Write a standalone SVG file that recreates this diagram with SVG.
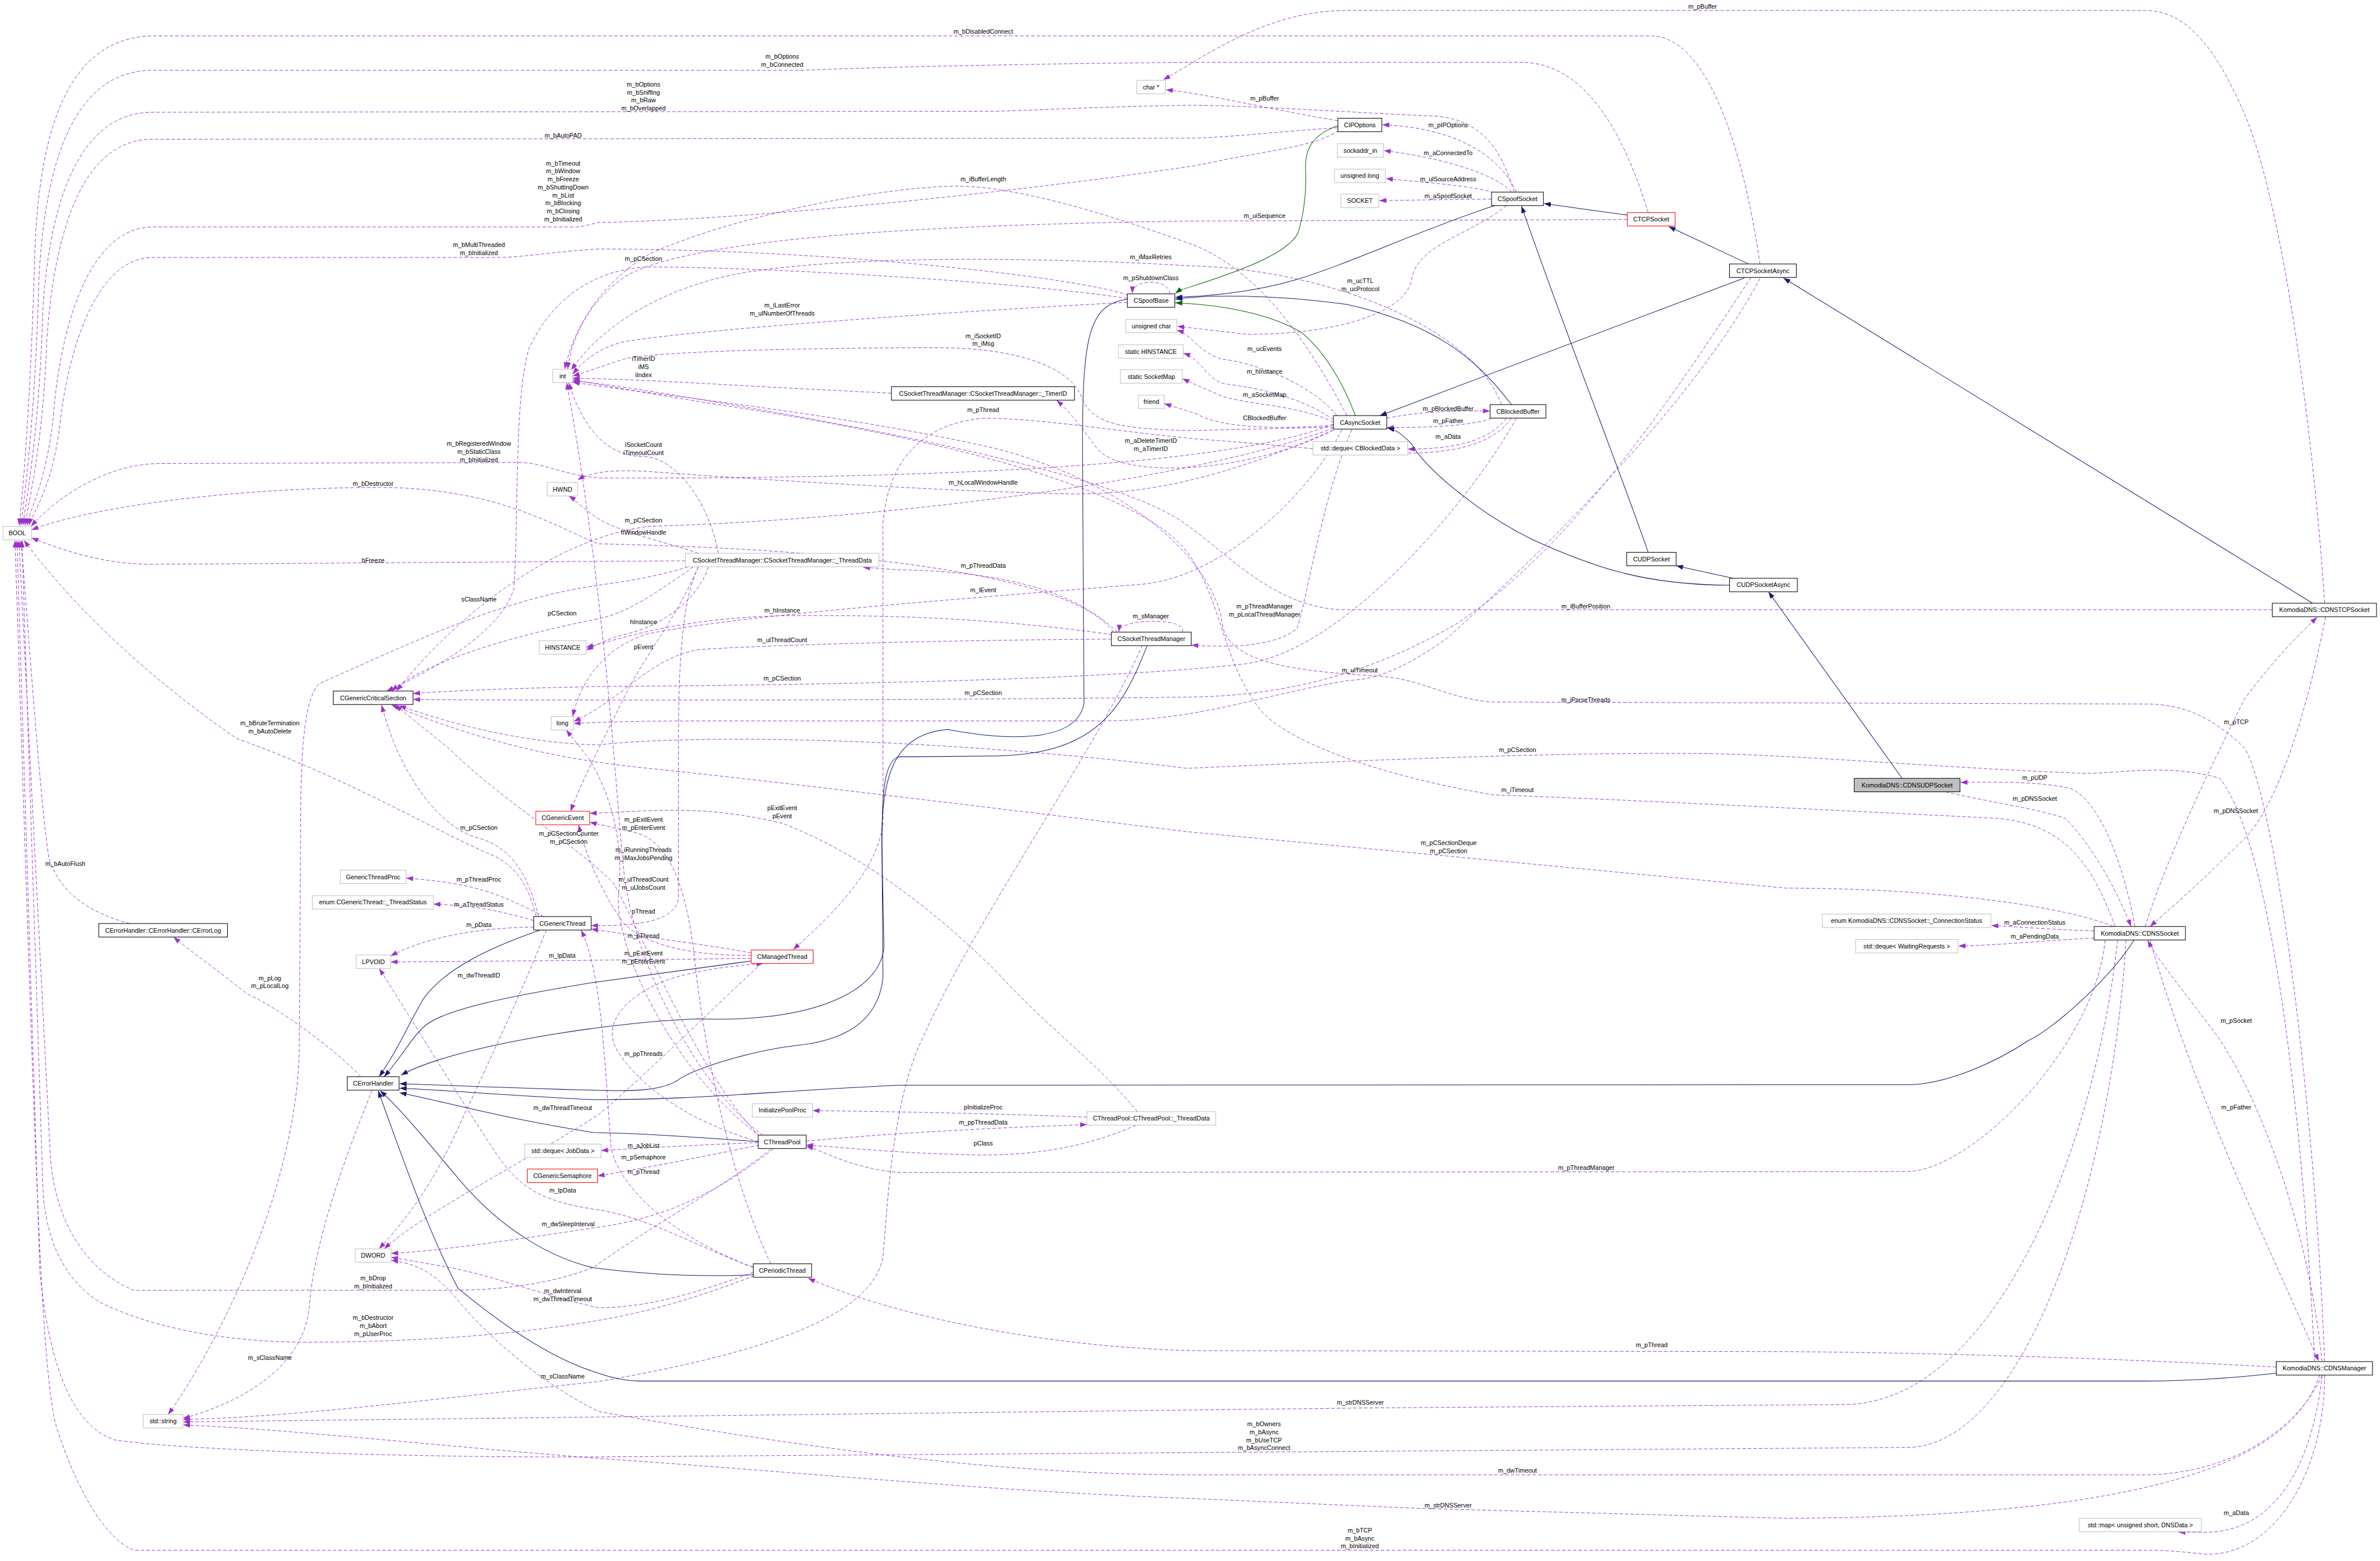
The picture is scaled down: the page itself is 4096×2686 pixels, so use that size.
<svg xmlns="http://www.w3.org/2000/svg" width="4096" height="2686" viewBox="0 0 4096 2686">
<style>
.nd rect{fill:#fff;stroke:#000;stroke-width:1.2}
.gy rect{stroke:#bfbfbf}
.rd rect{stroke:#ff0000}
.sel rect{fill:#bfbfbf}
text{font-family:"Liberation Sans",Arial,sans-serif;font-size:12.5px;text-anchor:middle;fill:#000}
.e{fill:none;stroke:#9a32cd;stroke-width:1.1;stroke-dasharray:7,4;marker-end:url(#ap)}
.i{fill:none;stroke:#191970;stroke-width:1.2;marker-end:url(#an)}
.gr{fill:none;stroke:#006400;stroke-width:1.2;marker-end:url(#ag)}
</style>
<defs>
<marker id="ap" viewBox="0 0 14 10" refX="14" refY="5" markerWidth="14" markerHeight="10" orient="auto" markerUnits="userSpaceOnUse"><path d="M0,0L14,5L0,10z" fill="#9a32cd"/></marker>
<marker id="an" viewBox="0 0 14 10" refX="14" refY="5" markerWidth="14" markerHeight="10" orient="auto" markerUnits="userSpaceOnUse"><path d="M0,0L14,5L0,10z" fill="#191970"/></marker>
<marker id="ag" viewBox="0 0 14 10" refX="14" refY="5" markerWidth="14" markerHeight="10" orient="auto" markerUnits="userSpaceOnUse"><path d="M0,0L14,5L0,10z" fill="#006400"/></marker>
</defs>
<rect width="4096" height="2686" fill="#fff"/>
<g transform="scale(0.85852)">
<g id="edges">
<path class="e" d="M4660,1209 C4640,900 4580,420 4500,230 C4440,90 4380,21 4300,21 L2700,21 C2540,21 2420,110 2332,160"/>
<path class="e" d="M3528,529 C3500,330 3430,72 3310,72 L306,72 C140,75 80,250 70,500 C62,800 45,1000 38,1053"/>
<path class="e" d="M3304,426 C3250,250 3170,125 3050,125 L2390,125 C2000,128 1700,137 1600,141 L306,141 C150,141 90,320 78,560 C70,850 48,1000 42,1053"/>
<path class="e" d="M3035,385 C3010,300 2970,233 2860,232 C2700,225 2500,211 2380,211 C2200,214 2050,222 1990,223 L306,225 C160,225 100,400 86,620 C78,880 52,1000 46,1053"/>
<path class="e" d="M2682,242 C2560,222 2420,188 2337,180"/>
<path class="e" d="M2682,256 C2580,262 2450,277 2380,277 L306,279 C170,279 110,450 94,680 C86,900 56,1010 50,1053"/>
<path class="e" d="M2684,262 C2640,290 2560,300 2500,312 C2450,320 2420,328 2390,333 C2000,390 1500,440 1200,446 C1180,450 1170,455 1150,455 L306,455 C190,455 130,620 110,800 C100,950 60,1020 54,1053"/>
<path class="e" d="M2262,592 C2180,560 1700,500 1200,499 C1100,505 1050,516 995,516 L306,516 C200,516 140,680 120,850 C105,980 64,1030 58,1053"/>
<path class="e" d="M2673,850 C2450,940 1800,960 1200,958 C1120,950 1090,927 1040,927 L321,929 C220,929 120,990 62,1055"/>
<path class="e" d="M2232,1267 C2150,1150 1700,1100 1200,1090 C1120,1060 1000,977 760,977 C500,977 200,1010 63,1062"/>
<path class="e" d="M1374,1124 L306,1131 C200,1131 120,1100 63,1078"/>
<path class="e" d="M1075,1837 C1060,1780 1040,1740 990,1715 C900,1680 700,1560 474,1480 C300,1360 150,1220 48,1083"/>
<path class="e" d="M260,1851 C180,1830 120,1790 98,1720 C80,1600 60,1300 42,1083"/>
<path class="e" d="M1545,2303 C1450,2380 1300,2460 1190,2540 C1100,2575 1000,2586 900,2586 L268,2586 C176,2548 105,2450 100,2300 L38,1083"/>
<path class="e" d="M1512,2557 C1400,2600 1300,2630 1190,2648 C1000,2680 800,2690 612,2690 C450,2690 300,2660 200,2610 C120,2560 90,2470 86,2380 L44,1083"/>
<path class="e" d="M4262,1884 C4230,2400 4050,2901 3823,2901 L1200,2920 C800,2922 350,2905 230,2886 C150,2860 100,2750 80,2550 L34,1083"/>
<path class="e" d="M4660,2756 C4660,2950 4560,3120 4420,3115 C4350,3107 4320,3107 4305,3107 L268,3107 C200,3080 140,2950 110,2849 C80,2700 70,2300 30,1083"/>
<path class="e" d="M3262,440 L2380,443 C1800,452 1400,480 1260,550 C1180,600 1145,680 1138,740"/>
<path class="e" d="M2700,833 C2620,680 2520,540 2390,490 C2250,440 2050,373 1917,373 C1750,375 1450,440 1300,510 C1200,570 1150,660 1132,740"/>
<path class="e" d="M3010,811 C2950,650 2650,540 2390,533 L2300,528 C2000,515 1700,515 1500,545 C1320,575 1200,660 1145,742"/>
<path class="e" d="M2260,606 C1900,625 1400,660 1250,685 C1190,700 1160,735 1148,750"/>
<path class="e" d="M2673,856 L2390,863 C2250,860 2190,850 2170,800 C2150,740 2050,697 1880,697 C1600,697 1300,705 1250,720 L1148,754"/>
<path class="e" d="M1787,788 C1500,775 1300,760 1148,758"/>
<path class="e" d="M1440,1109 C1420,1000 1350,915 1290,915 C1200,915 1160,830 1140,767"/>
<path class="e" d="M1530,2276 C1420,2200 1270,1950 1250,1740 C1235,1600 1215,1200 1136,767"/>
<path class="e" d="M4240,1857 C4200,1750 4150,1650 4000,1640 C3700,1625 3200,1600 2992,1593 C2800,1560 2600,1500 2530,1427 C2450,1330 2450,1200 2380,1107 C2300,1000 2000,900 1500,820 C1300,790 1200,770 1148,761"/>
<path class="e" d="M4555,1222 L2686,1222 C2550,1215 2450,1100 2380,1053 C2250,950 1700,850 1400,800 C1250,775 1180,765 1148,764"/>
<path class="e" d="M4660,2729 C4640,2200 4560,1600 4500,1500 C4420,1420 4350,1411 4300,1411 L2992,1407 C2900,1400 2850,1360 2760,1355 C2600,1345 2460,1330 2450,1250 C2440,1150 2300,980 2000,900 C1700,830 1300,790 1148,766"/>
<path class="e" d="M3528,558 C3400,800 3100,1100 2900,1280 C2800,1350 2750,1362 2700,1364 C2500,1400 2400,1445 2200,1445 L1400,1445 C1250,1445 1200,1448 1150,1450"/>
<path class="e" d="M2690,861 C2620,1000 2450,1150 2300,1170 C2000,1195 1500,1230 1300,1270 C1200,1300 1160,1380 1148,1436"/>
<path class="e" d="M2228,1281 C1900,1283 1550,1292 1400,1302 C1300,1320 1250,1400 1150,1446"/>
<path class="e" d="M1525,2278 C1350,2150 1230,1900 1240,1790 C1250,1700 1230,1600 1180,1520 L1135,1463"/>
<path class="e" d="M2260,598 C2000,560 1500,535 1300,535 C1180,540 1100,610 1060,700 C1030,800 1040,1050 1030,1180 C1000,1280 830,1360 775,1385"/>
<path class="e" d="M1390,1136 C1300,1200 1250,1230 1200,1240 C1000,1280 850,1330 785,1385"/>
<path class="e" d="M2673,858 C2400,960 1800,1040 1300,1055 C1100,1080 900,1250 795,1385"/>
<path class="e" d="M3040,838 C2950,1000 2700,1300 2500,1330 C2200,1365 1600,1373 1200,1376 C1000,1380 900,1385 828,1390"/>
<path class="e" d="M3510,556 C3350,800 3150,1100 2920,1250 C2700,1380 2500,1395 2390,1397 C2000,1402 1400,1405 828,1402"/>
<path class="e" d="M4640,2729 C4620,2300 4560,1700 4450,1560 C4350,1530 4250,1550 4182,1550 C3900,1540 3600,1512 3400,1510 C3100,1508 2700,1525 2380,1540 C1900,1480 1400,1470 1200,1493 C1050,1490 900,1450 800,1414"/>
<path class="e" d="M4236,1857 C4150,1820 3900,1780 3580,1780 L2904,1716 L2380,1667 C2000,1620 1500,1560 1300,1540 C1100,1520 950,1480 785,1413"/>
<path class="e" d="M1080,1837 C1060,1760 1030,1700 960,1680 C880,1660 800,1550 765,1413"/>
<path class="e" d="M1522,2277 C1400,2150 1300,1900 1230,1770 C1150,1690 1000,1600 900,1500 L792,1413"/>
<path class="e" d="M1400,1109 C1350,1090 1250,1070 1200,1040 C1170,1020 1150,1000 1140,994"/>
<path class="e" d="M2673,862 C2450,960 2300,990 2150,990 C1900,985 1500,960 1300,945 C1220,940 1180,948 1158,962"/>
<path class="e" d="M2230,1272 C2000,1240 1800,1232 1568,1234 C1350,1240 1250,1280 1175,1297"/>
<path class="e" d="M1420,1136 C1400,1200 1330,1255 1250,1272 C1220,1280 1200,1290 1175,1303"/>
<path class="e" d="M1400,1136 C1350,1250 1300,1300 1250,1400 C1200,1500 1160,1580 1144,1626"/>
<path class="e" d="M2280,2228 C2200,2130 2100,2060 2000,1950 C1850,1800 1700,1700 1568,1650 C1400,1610 1300,1627 1182,1630"/>
<path class="e" d="M1545,2533 C1460,2350 1410,2100 1390,1900 C1370,1750 1330,1680 1270,1668 L1182,1648"/>
<path class="e" d="M1506,1915 C1400,1915 1300,1900 1250,1850 C1200,1780 1170,1700 1160,1653"/>
<path class="e" d="M1400,1136 C1370,1200 1360,1300 1360,1500 L1360,1800 C1355,1840 1300,1857 1185,1855"/>
<path class="e" d="M1506,1910 C1400,1890 1300,1880 1185,1862"/>
<path class="e" d="M1510,2540 C1350,2480 1240,2380 1225,2300 C1210,2100 1205,1950 1165,1864"/>
<path class="e" d="M1090,1837 C1000,1790 950,1770 814,1760"/>
<path class="e" d="M1070,1845 C1000,1825 950,1815 869,1812"/>
<path class="e" d="M1070,1858 C950,1860 850,1880 783,1916"/>
<path class="e" d="M1506,1921 C1400,1922 1200,1925 783,1928"/>
<path class="e" d="M1510,2540 C1400,2500 1300,2440 1200,2425 C1100,2410 1050,2390 1000,2320 C920,2200 830,2050 760,1941"/>
<path class="e" d="M1095,1864 C1050,1980 970,2150 900,2300 C840,2420 780,2480 760,2503"/>
<path class="e" d="M1527,1931 C1450,2000 1300,2150 1200,2234 C1050,2330 850,2430 770,2503"/>
<path class="e" d="M1550,2303 C1450,2380 1350,2440 1190,2461 C1000,2490 850,2510 784,2512"/>
<path class="e" d="M1510,2550 C1400,2590 1300,2621 1200,2621 C1100,2600 1000,2560 900,2540 L784,2520"/>
<path class="e" d="M4655,2756 C4600,2880 4450,2956 4297,2956 L2390,2956 C2000,2956 1600,2900 1200,2829 C1100,2780 1000,2700 930,2620 C880,2560 850,2535 784,2526"/>
<path class="e" d="M723,2158 C680,2110 560,2020 497,1993 C430,1940 380,1905 348,1878"/>
<path class="e" d="M746,2185 C700,2300 630,2480 620,2620 C610,2720 520,2800 367,2843"/>
<path class="e" d="M1380,1136 C1300,1160 1250,1165 1200,1173 C1000,1200 800,1300 640,1370 C610,1400 605,1500 603,1600 L600,2100 C595,2400 420,2720 337,2835"/>
<path class="e" d="M2290,1293 C2200,1500 1950,1850 1850,2080 C1790,2200 1780,2400 1770,2520 C1750,2620 1600,2700 1200,2769 C900,2800 600,2840 367,2845"/>
<path class="e" d="M4245,1884 C4200,2300 4000,2810 3700,2815 L2727,2822 L1200,2840 C800,2845 500,2848 367,2850"/>
<path class="e" d="M4650,2756 C4600,2900 4400,3040 3580,3043 L2839,3023 L2380,3003 C2000,2990 1600,2950 1200,2923 C900,2900 550,2862 367,2856"/>
<path class="e" d="M1520,2288 C1420,2260 1300,2200 1240,2110 C1200,2050 1260,1990 1350,1960 C1420,1940 1480,1935 1530,1931"/>
<path class="e" d="M1520,2290 C1400,2295 1300,2300 1205,2306"/>
<path class="e" d="M1522,2295 C1400,2320 1300,2340 1198,2357"/>
<path class="e" d="M1616,2287 C1800,2270 2000,2260 2179,2254"/>
<path class="e" d="M2179,2239 C2000,2232 1800,2228 1629,2226"/>
<path class="e" d="M2277,2255 C2200,2290 2100,2315 1971,2315 C1800,2312 1700,2300 1616,2295"/>
<path class="e" d="M4220,1884 C4200,2100 3950,2348 3823,2348 L1800,2350 C1700,2340 1650,2305 1616,2298"/>
<path class="e" d="M4563,2740 C4200,2720 3800,2710 3570,2709 L2390,2707 C2100,2700 1800,2640 1620,2562"/>
<path class="e" d="M2240,1267 C2150,1180 2000,1145 1800,1142 L1730,1137"/>
<path class="e" d="M2370,1267 C2385,1238 2245,1238 2243,1266"/>
<path class="e" d="M2710,861 C2650,1000 2620,1200 2600,1260 C2550,1300 2450,1297 2388,1293"/>
<path class="e" d="M2680,833 C2620,760 2500,725 2450,720 C2400,705 2390,670 2359,662"/>
<path class="e" d="M3020,412 C2950,470 2840,490 2830,560 C2820,620 2700,670 2500,670 L2360,654"/>
<path class="e" d="M2673,841 C2600,790 2500,775 2460,770 C2420,765 2410,720 2372,708"/>
<path class="e" d="M2673,846 C2600,810 2480,810 2440,790 L2370,759"/>
<path class="e" d="M2673,852 C2580,860 2450,860 2400,830 L2334,809"/>
<path class="e" d="M2780,838 C2850,825 2920,822 2987,824"/>
<path class="e" d="M2990,838 C2950,855 2850,857 2780,857"/>
<path class="e" d="M3020,838 C2980,890 2900,900 2822,900"/>
<path class="e" d="M2673,862 C2500,950 2250,960 2200,900 C2170,860 2150,830 2118,802"/>
<path class="e" d="M3030,838 C2950,950 2700,900 2400,880 C2200,860 2100,840 1971,838 C1850,850 1780,920 1770,1050 L1770,1650 C1760,1750 1650,1850 1590,1903"/>
<path class="e" d="M3040,385 C3000,300 2900,255 2771,250"/>
<path class="e" d="M3030,385 C2990,340 2850,310 2774,302"/>
<path class="e" d="M2995,386 C2950,372 2850,365 2778,358"/>
<path class="e" d="M2990,399 L2765,402"/>
<path class="e" d="M2345,589 C2345,558 2270,558 2270,588"/>
<path class="e" d="M4300,1857 C4350,1700 4450,1500 4500,1400 C4560,1320 4610,1270 4645,1237"/>
<path class="e" d="M4662,1236 C4620,1450 4560,1620 4500,1680 C4400,1780 4340,1830 4310,1857"/>
<path class="e" d="M4280,1857 C4250,1700 4200,1600 4150,1580 C4080,1565 4000,1568 3930,1568"/>
<path class="e" d="M3900,1587 C4000,1610 4080,1620 4140,1640 C4200,1700 4250,1800 4272,1857"/>
<path class="e" d="M4198,1866 C4100,1862 4050,1858 3992,1855"/>
<path class="e" d="M4198,1880 C4100,1885 4000,1895 3926,1896"/>
<path class="e" d="M4310,1884 C4400,2200 4550,2500 4648,2728"/>
<path class="e" d="M4655,2729 C4620,2400 4500,2150 4440,2070 C4380,1990 4330,1930 4305,1885"/>
<path class="e" d="M4655,2756 C4640,2900 4580,3071 4420,3071 L4367,3071"/>
<path class="i" d="M2996,412 C2850,460 2700,530 2600,560 C2500,590 2400,594 2356,596"/>
<path class="i" d="M3262,431 L3095,408"/>
<path class="i" d="M3505,529 L3345,454"/>
<path class="i" d="M3497,557 L2766,833"/>
<path class="i" d="M3304,1107 C3250,950 3150,700 3050,413"/>
<path class="i" d="M3474,1159 L3360,1134"/>
<path class="i" d="M3467,1173 C3300,1172 3200,1140 3069,1080 C2950,1020 2850,930 2830,890 C2810,870 2800,862 2781,858"/>
<path class="i" d="M3813,1560 L3545,1186"/>
<path class="i" d="M4636,1209 L3575,557"/>
<path class="i" d="M3030,811 C2960,720 2880,650 2700,610 C2550,590 2420,590 2356,600"/>
<path class="i" d="M2260,600 C2180,610 2170,680 2170,900 L2173,1410 C2160,1480 2050,1490 1900,1462 C1790,1470 1765,1560 1768,1700 L1772,1900 C1760,2000 1600,2050 1400,2042 C1200,2050 900,2100 804,2155"/>
<path class="i" d="M2300,1293 C2250,1420 2200,1510 2000,1515 L1800,1517 C1770,1530 1768,1600 1768,1700 L1770,1960 C1760,2050 1690,2085 1600,2095 C1500,2107 1400,2140 1366,2160 C1330,2190 1250,2187 1190,2185 C1000,2180 900,2175 801,2172"/>
<path class="i" d="M1506,1926 L1190,1969 C1000,2000 903,2023 860,2050 C830,2070 812,2110 770,2158"/>
<path class="i" d="M1083,1864 C980,1900 895,1940 850,2000 C820,2050 800,2100 760,2158"/>
<path class="i" d="M1520,2288 C1400,2280 1300,2272 1190,2270 C1000,2240 900,2210 801,2190"/>
<path class="i" d="M1510,2555 C1400,2560 1300,2555 1190,2541 C1100,2520 1000,2460 918,2361 C850,2280 800,2220 762,2186"/>
<path class="i" d="M4563,2752 C4450,2765 4350,2768 4297,2768 L1282,2768 C1250,2768 1220,2760 1190,2749 C1100,2720 1000,2650 918,2582 C850,2450 800,2300 758,2186"/>
<path class="i" d="M4278,1884 C4230,1960 4120,2060 4067,2085 C4000,2130 3900,2174 3823,2174 L1802,2175 C1500,2190 1400,2204 1190,2204 C1000,2195 900,2185 801,2181"/>
<path class="gr" d="M2682,252 C2630,270 2617,300 2617,333 C2620,400 2610,440 2602,467 C2580,510 2480,545 2380,577 C2370,580 2360,585 2356,588"/>
<path class="gr" d="M2717,833 C2690,760 2650,700 2610,667 C2550,630 2450,610 2356,607"/>
</g>
<g id="labels">
<text x="3413" y="17.5">m_pBuffer</text>
<text x="1971" y="67.5">m_bDisabledConnect</text>
<text x="1568" y="117.5">m_bOptions</text><text x="1568" y="133.5">m_bConnected</text>
<text x="1290" y="173.5">m_bOptions</text><text x="1290" y="189.5">m_bSniffing</text><text x="1290" y="205.5">m_bRaw</text><text x="1290" y="221.5">m_bOverlapped</text>
<text x="2535" y="201.5">m_pBuffer</text>
<text x="2903" y="255.5">m_pIPOptions</text>
<text x="1129" y="275.5">m_bAutoPAD</text>
<text x="2903" y="311.5">m_aConnectedTo</text>
<text x="1129" y="331.5">m_bTimeout</text><text x="1129" y="347.5">m_bWindow</text><text x="1129" y="363.5">m_bFreeze</text><text x="1129" y="379.5">m_bShuttingDown</text><text x="1129" y="395.5">m_bList</text><text x="1129" y="411.5">m_bBlocking</text><text x="1129" y="427.5">m_bClosing</text><text x="1129" y="443.5">m_bInitialized</text>
<text x="2903" y="363.5">m_ulSourceAddress</text>
<text x="1971" y="363.5">m_iBufferLength</text>
<text x="2903" y="397.5">m_aSpoofSocket</text>
<text x="2535" y="436.5">m_uiSequence</text>
<text x="960" y="495.5">m_bMultiThreaded</text><text x="960" y="511.5">m_bInitialized</text>
<text x="2307" y="519.5">m_iMaxRetries</text>
<text x="1290" y="523.5">m_pCSection</text>
<text x="2307" y="561.5">m_pShutdownClass</text>
<text x="2727" y="567.5">m_ucTTL</text><text x="2727" y="583.5">m_ucProtocol</text>
<text x="1568" y="616.5">m_iLastError</text><text x="1568" y="632.5">m_ulNumberOfThreads</text>
<text x="1971" y="677.5">m_iSocketID</text><text x="1971" y="693.5">m_iMsg</text>
<text x="2535" y="703.5">m_ucEvents</text>
<text x="1290" y="723.5">iTimerID</text><text x="1290" y="739.5">iMS</text><text x="1290" y="755.5">iIndex</text>
<text x="2535" y="749.5">m_hInstance</text>
<text x="2535" y="795.5">m_aSocketMap</text>
<text x="1971" y="825.5">m_pThread</text>
<text x="2903" y="823.5">m_pBlockedBuffer</text>
<text x="2535" y="842.5">CBlockedBuffer</text>
<text x="2903" y="848.5">m_pFather</text>
<text x="2903" y="879.5">m_aData</text>
<text x="2307" y="887.5">m_aDeleteTimerID</text><text x="2307" y="903.5">m_aTimerID</text>
<text x="960" y="893.5">m_bRegisteredWindow</text><text x="960" y="909.5">m_bStaticClass</text><text x="960" y="925.5">m_bInitialized</text>
<text x="1290" y="895.5">iSocketCount</text><text x="1290" y="911.5">iTimeoutCount</text>
<text x="1971" y="971.5">m_hLocalWindowHandle</text>
<text x="748" y="973.5">m_bDestructor</text>
<text x="1290" y="1047.5">m_pCSection</text>
<text x="1290" y="1071.5">hWindowHandle</text>
<text x="748" y="1127.5">bFreeze</text>
<text x="1971" y="1137.5">m_pThreadData</text>
<text x="1971" y="1187.5">m_lEvent</text>
<text x="960" y="1205.5">sClassName</text>
<text x="3179" y="1219.5">m_iBufferPosition</text>
<text x="2535" y="1219.5">m_pThreadManager</text><text x="2535" y="1235.5">m_pLocalThreadManager</text>
<text x="1568" y="1227.5">m_hInstance</text>
<text x="1127" y="1233.5">pCSection</text>
<text x="2307" y="1239.5">m_sManager</text>
<text x="1290" y="1251.5">hInstance</text>
<text x="1568" y="1287.5">m_ulThreadCount</text>
<text x="1290" y="1301.5">pEvent</text>
<text x="2726" y="1347.5">m_ulTimeout</text>
<text x="1568" y="1363.5">m_pCSection</text>
<text x="1971" y="1393.5">m_pCSection</text>
<text x="3179" y="1407.5">m_iParseThreads</text>
<text x="4483" y="1451.5">m_pTCP</text>
<text x="541" y="1453.5">m_bBruteTermination</text><text x="541" y="1469.5">m_bAutoDelete</text>
<text x="3042" y="1507.5">m_pCSection</text>
<text x="4079" y="1563.5">m_pUDP</text>
<text x="3042" y="1587.5">m_iTimeout</text>
<text x="4079" y="1605.5">m_pDNSSocket</text>
<text x="1568" y="1623.5">pExitEvent</text><text x="1568" y="1639.5">pEvent</text>
<text x="4482" y="1629.5">m_pDNSSocket</text>
<text x="1290" y="1647.5">m_pExitEvent</text><text x="1290" y="1663.5">m_pEnterEvent</text>
<text x="960" y="1663.5">m_pCSection</text>
<text x="1140" y="1675.5">m_pCSectionCounter</text><text x="1140" y="1691.5">m_pCSection</text>
<text x="2904" y="1693.5">m_pCSectionDeque</text><text x="2904" y="1709.5">m_pCSection</text>
<text x="1290" y="1707.5">m_iRunningThreads</text><text x="1290" y="1723.5">m_iMaxJobsPending</text>
<text x="131" y="1735.5">m_bAutoFlush</text>
<text x="960" y="1767.5">m_pThreadProc</text>
<text x="1290" y="1767.5">m_ulThreadCount</text><text x="1290" y="1783.5">m_ulJobsCount</text>
<text x="960" y="1817.5">m_aThreadStatus</text>
<text x="1290" y="1831.5">pThread</text>
<text x="4079" y="1853.5">m_aConnectionStatus</text>
<text x="960" y="1857.5">m_pData</text>
<text x="1290" y="1879.5">m_pThread</text>
<text x="4079" y="1881.5">m_aPendingData</text>
<text x="1290" y="1915.5">m_pExitEvent</text><text x="1290" y="1931.5">m_pEnterEvent</text>
<text x="1127" y="1919.5">m_lpData</text>
<text x="960" y="1959.5">m_dwThreadID</text>
<text x="541" y="1964.5">m_pLog</text><text x="541" y="1980.5">m_pLocalLog</text>
<text x="4483" y="2049.5">m_pSocket</text>
<text x="1290" y="2116.5">m_ppThreads</text>
<text x="4483" y="2223.5">m_pFather</text>
<text x="1971" y="2223.5">pInitializeProc</text>
<text x="1128" y="2224.5">m_dwThreadTimeout</text>
<text x="1971" y="2253.5">m_ppThreadData</text>
<text x="1971" y="2295.5">pClass</text>
<text x="1290" y="2300.5">m_aJobList</text>
<text x="1290" y="2323.5">m_pSemaphore</text>
<text x="3180" y="2344.5">m_pThreadManager</text>
<text x="1290" y="2352.5">m_pThread</text>
<text x="1128" y="2390.5">m_lpData</text>
<text x="1139" y="2457.5">m_dwSleepInterval</text>
<text x="748" y="2566.5">m_bDrop</text><text x="748" y="2582.5">m_bInitialized</text>
<text x="1128" y="2591.5">m_dwInterval</text><text x="1128" y="2607.5">m_dwThreadTimeout</text>
<text x="748" y="2645.5">m_bDestructor</text><text x="748" y="2661.5">m_bAbort</text><text x="748" y="2677.5">m_pUserProc</text>
<text x="3311" y="2700.5">m_pThread</text>
<text x="541" y="2725.5">m_sClassName</text>
<text x="1128" y="2762.5">m_sClassName</text>
<text x="2727" y="2815.5">m_strDNSServer</text>
<text x="2534" y="2858.5">m_bOwners</text><text x="2534" y="2874.5">m_bAsync</text><text x="2534" y="2890.5">m_bUseTCP</text><text x="2534" y="2906.5">m_bAsyncConnect</text>
<text x="3042" y="2951.5">m_dwTimeout</text>
<text x="2903" y="3021.5">m_strDNSServer</text>
<text x="4483" y="3036.5">m_aData</text>
<text x="2726" y="3071.5">m_bTCP</text><text x="2726" y="3087.5">m_bAsync</text><text x="2726" y="3103.5">m_bInitialized</text>
</g>
<g id="n_charp" class="nd gy"><rect x="2279" y="161" width="57" height="27"/><text x="2307.5" y="179">char *</text></g>
<g id="n_CIPOptions" class="nd"><rect x="2682" y="237" width="88" height="27"/><text x="2726" y="255">CIPOptions</text></g>
<g id="n_sockaddr_in" class="nd gy"><rect x="2681" y="288" width="92" height="27"/><text x="2727" y="306">sockaddr_in</text></g>
<g id="n_unsigned_long" class="nd gy"><rect x="2675" y="339" width="102" height="27"/><text x="2726" y="357">unsigned long</text></g>
<g id="n_SOCKET" class="nd gy"><rect x="2688" y="389" width="76" height="27"/><text x="2726" y="407">SOCKET</text></g>
<g id="n_CSpoofSocket" class="nd"><rect x="2990" y="385" width="104" height="27"/><text x="3042" y="403">CSpoofSocket</text></g>
<g id="n_CTCPSocket" class="nd rd"><rect x="3262" y="426" width="96" height="27"/><text x="3310" y="444">CTCPSocket</text></g>
<g id="n_CTCPSocketAsync" class="nd"><rect x="3467" y="529" width="134" height="27"/><text x="3534" y="547">CTCPSocketAsync</text></g>
<g id="n_CSpoofBase" class="nd"><rect x="2260" y="589" width="95" height="27"/><text x="2307.5" y="607">CSpoofBase</text></g>
<g id="n_int" class="nd gy"><rect x="1108" y="740" width="40" height="27"/><text x="1128" y="758">int</text></g>
<g id="n_unsigned_char" class="nd gy"><rect x="2257" y="640" width="102" height="27"/><text x="2308" y="658">unsigned char</text></g>
<g id="n_static_HINSTANCE" class="nd gy"><rect x="2242" y="691" width="130" height="27"/><text x="2307" y="709">static HINSTANCE</text></g>
<g id="n_static_SocketMap" class="nd gy"><rect x="2246" y="741" width="124" height="27"/><text x="2308" y="759">static SocketMap</text></g>
<g id="n_friend" class="nd gy"><rect x="2282" y="792" width="52" height="27"/><text x="2308" y="810">friend</text></g>
<g id="n_TimerID" class="nd"><rect x="1787" y="775" width="367" height="27"/><text x="1970.5" y="793">CSocketThreadManager::CSocketThreadManager::_TimerID</text></g>
<g id="n_CAsyncSocket" class="nd"><rect x="2673" y="833" width="107" height="27"/><text x="2726.5" y="851">CAsyncSocket</text></g>
<g id="n_CBlockedBuffer" class="nd"><rect x="2987" y="811" width="112" height="27"/><text x="3043" y="829">CBlockedBuffer</text></g>
<g id="n_deque_CBlockedData" class="nd gy"><rect x="2632" y="885" width="190" height="27"/><text x="2727" y="903">std::deque&lt; CBlockedData &gt;</text></g>
<g id="n_HWND" class="nd gy"><rect x="1097" y="967" width="61" height="27"/><text x="1127.5" y="985">HWND</text></g>
<g id="n_BOOL" class="nd gy"><rect x="6" y="1055" width="57" height="27"/><text x="34.5" y="1073">BOOL</text></g>
<g id="n_STM_ThreadData" class="nd gy"><rect x="1374" y="1109" width="388" height="27"/><text x="1568" y="1127">CSocketThreadManager::CSocketThreadManager::_ThreadData</text></g>
<g id="n_CSocketThreadManager" class="nd"><rect x="2228" y="1267" width="160" height="27"/><text x="2308" y="1285">CSocketThreadManager</text></g>
<g id="n_HINSTANCE" class="nd gy"><rect x="1081" y="1284" width="94" height="27"/><text x="1128" y="1302">HINSTANCE</text></g>
<g id="n_CGenericCriticalSection" class="nd"><rect x="668" y="1385" width="160" height="27"/><text x="748" y="1403">CGenericCriticalSection</text></g>
<g id="n_long" class="nd gy"><rect x="1105" y="1436" width="45" height="27"/><text x="1127.5" y="1454">long</text></g>
<g id="n_CGenericEvent" class="nd rd"><rect x="1074" y="1626" width="108" height="27"/><text x="1128" y="1644">CGenericEvent</text></g>
<g id="n_GenericThreadProc" class="nd gy"><rect x="682" y="1744" width="132" height="27"/><text x="748" y="1762">GenericThreadProc</text></g>
<g id="n_ThreadStatus" class="nd gy"><rect x="626" y="1795" width="243" height="27"/><text x="747.5" y="1813">enum CGenericThread::_ThreadStatus</text></g>
<g id="n_CGenericThread" class="nd"><rect x="1070" y="1837" width="115" height="27"/><text x="1127.5" y="1855">CGenericThread</text></g>
<g id="n_CErrorLog" class="nd"><rect x="198" y="1851" width="258" height="27"/><text x="327" y="1869">CErrorHandler::CErrorHandler::CErrorLog</text></g>
<g id="n_LPVOID" class="nd gy"><rect x="714" y="1914" width="69" height="27"/><text x="748.5" y="1932">LPVOID</text></g>
<g id="n_CManagedThread" class="nd rd"><rect x="1506" y="1904" width="124" height="27"/><text x="1568" y="1922">CManagedThread</text></g>
<g id="n_CErrorHandler" class="nd"><rect x="696" y="2158" width="104" height="27"/><text x="748" y="2176">CErrorHandler</text></g>
<g id="n_InitializePoolProc" class="nd gy"><rect x="1508" y="2212" width="121" height="27"/><text x="1568.5" y="2230">InitializePoolProc</text></g>
<g id="n_CThreadPool" class="nd"><rect x="1520" y="2275" width="96" height="27"/><text x="1568" y="2293">CThreadPool</text></g>
<g id="n_TP_ThreadData" class="nd gy"><rect x="2179" y="2228" width="258" height="27"/><text x="2308" y="2246">CThreadPool::CThreadPool::_ThreadData</text></g>
<g id="n_deque_JobData" class="nd gy"><rect x="1052" y="2293" width="153" height="27"/><text x="1128.5" y="2311">std::deque&lt; JobData &gt;</text></g>
<g id="n_CGenericSemaphore" class="nd rd"><rect x="1057" y="2343" width="141" height="27"/><text x="1127.5" y="2361">CGenericSemaphore</text></g>
<g id="n_DWORD" class="nd gy"><rect x="712" y="2503" width="72" height="27"/><text x="748" y="2521">DWORD</text></g>
<g id="n_CPeriodicThread" class="nd"><rect x="1510" y="2533" width="117" height="27"/><text x="1568.5" y="2551">CPeriodicThread</text></g>
<g id="n_std_string" class="nd gy"><rect x="287" y="2835" width="80" height="27"/><text x="327" y="2853">std::string</text></g>
<g id="n_CUDPSocket" class="nd"><rect x="3261" y="1107" width="99" height="27"/><text x="3310.5" y="1125">CUDPSocket</text></g>
<g id="n_CUDPSocketAsync" class="nd"><rect x="3467" y="1159" width="136" height="27"/><text x="3535" y="1177">CUDPSocketAsync</text></g>
<g id="n_CDNSTCPSocket" class="nd"><rect x="4555" y="1209" width="209" height="27"/><text x="4659.5" y="1227">KomodiaDNS::CDNSTCPSocket</text></g>
<g id="n_CDNSUDPSocket" class="nd sel"><rect x="3717" y="1560" width="212" height="27"/><text x="3823" y="1578">KomodiaDNS::CDNSUDPSocket</text></g>
<g id="n_ConnectionStatus" class="nd gy"><rect x="3653" y="1832" width="338" height="27"/><text x="3822" y="1850">enum KomodiaDNS::CDNSSocket::_ConnectionStatus</text></g>
<g id="n_deque_WaitingRequests" class="nd gy"><rect x="3720" y="1883" width="205" height="27"/><text x="3822.5" y="1901">std::deque&lt; WaitingRequests &gt;</text></g>
<g id="n_CDNSSocket" class="nd"><rect x="4198" y="1857" width="183" height="27"/><text x="4289.5" y="1875">KomodiaDNS::CDNSSocket</text></g>
<g id="n_CDNSManager" class="nd"><rect x="4563" y="2729" width="193" height="27"/><text x="4659.5" y="2747">KomodiaDNS::CDNSManager</text></g>
<g id="n_std_map" class="nd gy"><rect x="4168" y="3043" width="245" height="27"/><text x="4290.5" y="3061">std::map&lt; unsigned short, DNSData &gt;</text></g>
</g>
</svg>
